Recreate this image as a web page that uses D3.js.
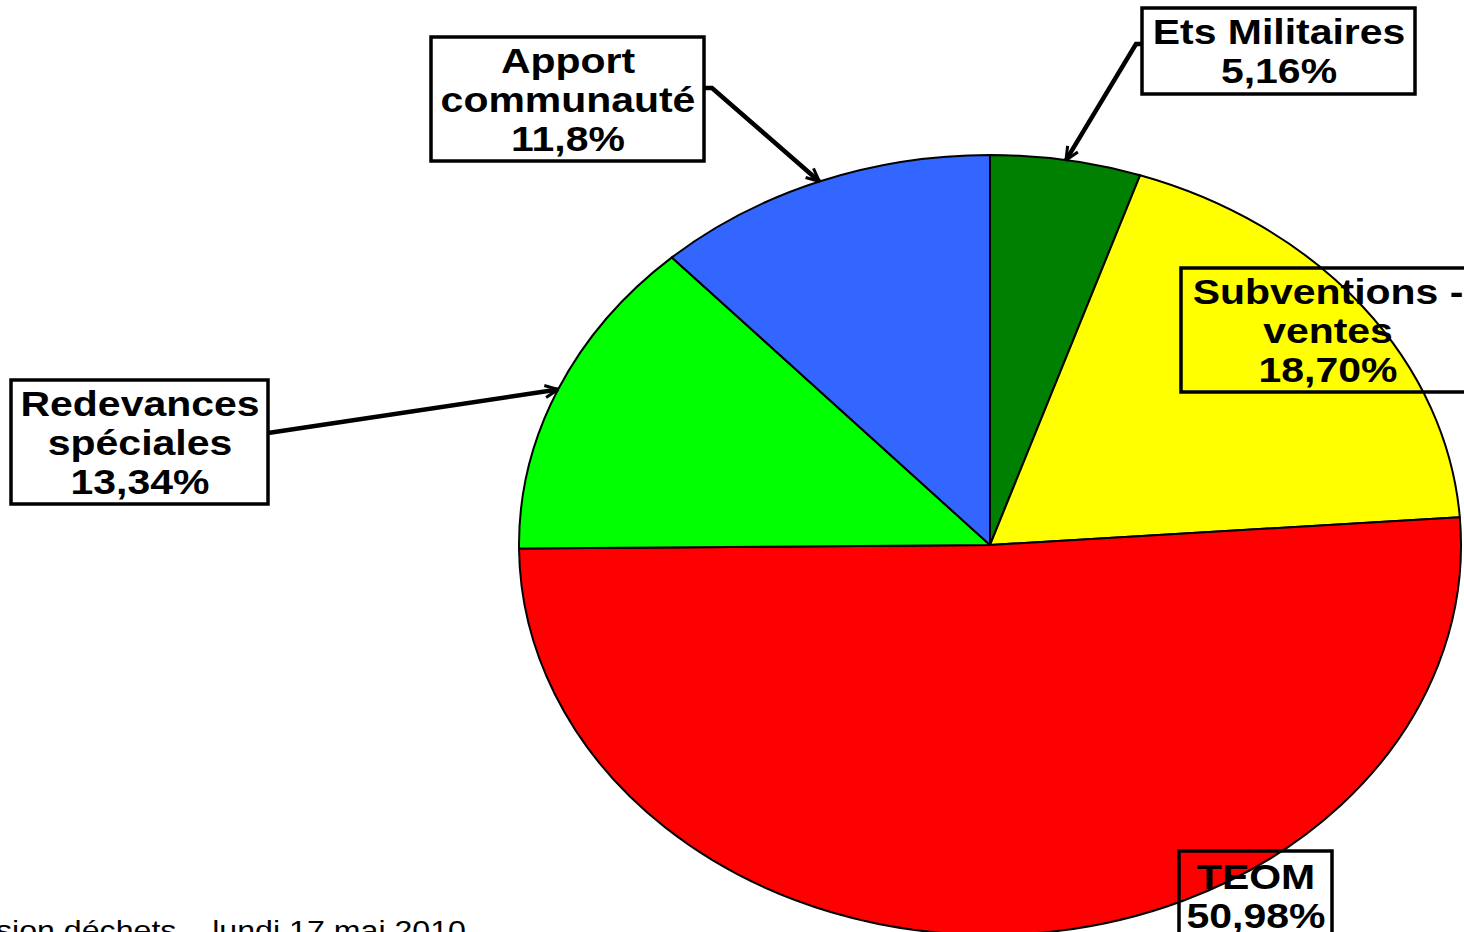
<!DOCTYPE html>
<html><head><meta charset="utf-8">
<script src="https://cdn.jsdelivr.net/npm/d3@7"></script>
<style>html,body{margin:0;padding:0;background:#fff;overflow:hidden}</style>
</head><body>
<svg id="chart" width="1464" height="932"></svg>
<script>
// ---- data ----
const categories = ["Ets Militaires", "Subventions - ventes", "TEOM", "Redevances spéciales", "Apport communauté"];
const values = [5.16, 18.70, 50.98, 13.34, 11.8];
const valueLabels = ["5,16%", "18,70%", "50,98%", "13,34%", "11,8%"];
const nameLines = [["Ets Militaires"], ["Subventions -", "ventes"], ["TEOM"], ["Redevances", "spéciales"], ["Apport", "communauté"]];
const colors = ["#008000", "#FFFF00", "#FF0000", "#00FF00", "#3366FF"];
const footer = "Commission déchets – lundi 17 mai 2010";

// ---- layout ----
const W = 1464, H = 932;
const cx = 990, cy = 545, rx = 471, ry = 390;
const sx = 1.17;
const boxes = [
  {x:1142, y:8,   w:273, h:86,  tc:1279, first:44,  leader:[[1142,44],[1136,44]]},
  {x:1181, y:268, w:294, h:124, tc:1328, first:304, leader:null},
  {x:1179, y:851, w:153, h:124, tc:1256, first:889, leader:null},
  {x:11,   y:380, w:257, h:124, tc:140,  first:416, leader:[[268,433]]},
  {x:431,  y:37,  w:273, h:124, tc:568,  first:73,  leader:[[704,88],[712,88]]}
];
const lineGap = 39;

const svg = d3.select("#chart");
svg.append("defs").append("marker")
  .attr("id","arr").attr("markerUnits","userSpaceOnUse")
  .attr("viewBox","0 0 16 16").attr("refX",15).attr("refY",8)
  .attr("markerWidth",16).attr("markerHeight",16).attr("orient","auto")
  .append("path").attr("d","M2,2 L15,8 L2,14").attr("fill","none")
  .attr("stroke","#000").attr("stroke-width",3).attr("stroke-linejoin","miter");

const pie = d3.pie().sort(null).value(d => d)(values);
const arc = d3.arc().innerRadius(0).outerRadius(ry);

const gp = svg.append("g").attr("transform", `translate(${cx},${cy}) scale(${rx/ry},1)`);
gp.selectAll("path").data(pie).join("path")
  .attr("d", arc)
  .attr("fill", (d,i) => colors[i])
  .attr("stroke", "#000")
  .attr("stroke-width", 2)
  .attr("vector-effect", "non-scaling-stroke")
  .attr("stroke-linejoin","round");

// leaders
pie.forEach((d,i) => {
  const b = boxes[i];
  if (!b.leader) return;
  const a = (d.startAngle + d.endAngle) / 2;
  const tip = [cx + rx * Math.sin(a), cy - ry * Math.cos(a)];
  const pts = b.leader.concat([tip]);
  svg.append("path")
    .attr("d", d3.line()(pts))
    .attr("fill","none").attr("stroke","#000").attr("stroke-width",4.5)
    .attr("marker-end","url(#arr)");
});

// label boxes
const font = "'Liberation Sans', Arial, Helvetica, sans-serif";
categories.forEach((c,i) => {
  const b = boxes[i];
  svg.append("rect").attr("x",b.x).attr("y",b.y).attr("width",b.w).attr("height",b.h)
    .attr("fill","none").attr("stroke","#000").attr("stroke-width",3.5);
  const lines = nameLines[i].concat([valueLabels[i]]);
  const g = svg.append("g").attr("transform",`translate(${b.tc},0) scale(${sx},1)`);
  lines.forEach((t,k) => {
    g.append("text").attr("x",0).attr("y", b.first + k*lineGap)
      .attr("text-anchor","middle")
      .attr("font-family", font).attr("font-weight","bold").attr("font-size",35)
      .attr("fill","#000").text(t);
  });
});

// footer
svg.append("g").attr("transform",`translate(466,0) scale(${sx},1)`)
  .append("text").attr("x",0).attr("y",940).attr("text-anchor","end")
  .attr("font-family", font).attr("font-size",27.5).attr("fill","#000").text(footer);
</script>
</body></html>
